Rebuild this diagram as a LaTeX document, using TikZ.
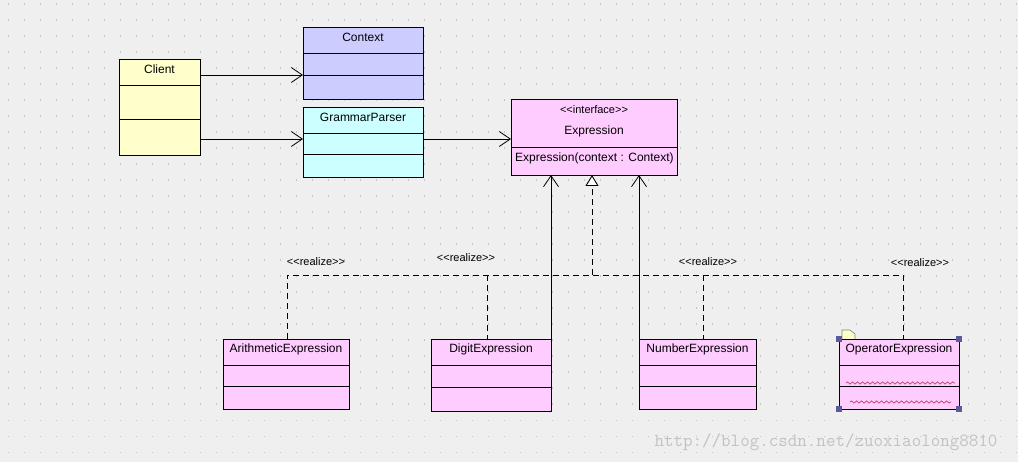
\documentclass[tikz,border=0pt]{standalone}
\usepackage{fontspec}
\setmainfont{Liberation Sans}
\usetikzlibrary{arrows.meta,decorations.pathmorphing,calc}
\definecolor{bgc}{HTML}{EFEFEF}
\definecolor{dotc}{HTML}{C4C4C4}
\definecolor{clientc}{HTML}{FFFFCC}
\definecolor{contextc}{HTML}{CCCCFF}
\definecolor{parserc}{HTML}{CCFFFF}
\definecolor{exprc}{HTML}{FFCCFF}
\definecolor{handlec}{HTML}{5A5A9C}
\definecolor{wavec}{HTML}{C0406A}
\definecolor{wmc}{HTML}{C2C2C2}
\begin{document}
\begin{tikzpicture}[x=1pt,y=-1pt,
  font=\fontsize{12}{14}\selectfont,
  box/.style={draw=black, line width=0.9pt, anchor=north west, inner sep=0pt, outer sep=0pt},
  ttl/.style={inner sep=0pt, anchor=center},
  stereo/.style={inner sep=0pt, anchor=center, font=\fontsize{11}{13}\selectfont},
  divider/.style={line width=0.9pt},
  assoc/.style={line width=0.9pt, -{Straight Barb[length=11pt,width=15pt,line width=0.8pt]}},
  realline/.style={line width=0.9pt, dash pattern=on 6pt off 4pt},
  realtip/.style={line width=0.9pt, dash pattern=on 6pt off 4pt, -{Triangle[open,fill=white,length=11pt,width=13pt,line width=0.9pt]}},
  handle/.style={fill=handlec, minimum size=6pt, inner sep=0pt},
  wave/.style={draw=wavec, line width=0.7pt, decorate, decoration={snake, amplitude=1.1pt, segment length=5pt}}
]
\fill[bgc] (0,0) rectangle (1018,462);
\useasboundingbox (0,0) rectangle (1018,462);
\foreach \i in {0,...,63} {\foreach \j in {0,...,28} {\fill[dotc] (7.5+\i*16, 3.5+\j*16) rectangle +(1.3,1.3);}}

% Client
\node[box, fill=clientc, minimum width=81pt, minimum height=96pt] (client) at (119,59) {};
\node[ttl] (clientT) at ($(client.north)+(0,10)$) {Client};
\draw[divider] ([yshift=-26pt]client.north west) -- ([yshift=-26pt]client.north east);
\draw[divider] ([yshift=-60pt]client.north west) -- ([yshift=-60pt]client.north east);

% Context
\node[box, fill=contextc, minimum width=120pt, minimum height=72pt] (context) at (303,27) {};
\node[ttl] (contextT) at ($(context.north)+(0,10)$) {Context};
\draw[divider] ([yshift=-26pt]context.north west) -- ([yshift=-26pt]context.north east);
\draw[divider] ([yshift=-48pt]context.north west) -- ([yshift=-48pt]context.north east);

% GrammarParser
\node[box, fill=parserc, minimum width=120pt, minimum height=70pt] (parser) at (303,107) {};
\node[ttl] (parserT) at ($(parser.north)+(0,10)$) {GrammarParser};
\draw[divider] ([yshift=-26pt]parser.north west) -- ([yshift=-26pt]parser.north east);
\draw[divider] ([yshift=-47pt]parser.north west) -- ([yshift=-47pt]parser.north east);

% Expression
\node[box, fill=exprc, minimum width=166pt, minimum height=76pt] (expr) at (511,99) {};
\node[stereo] (exprS) at ($(expr.north)+(0,11)$) {<{}<interface>{}>};
\node[ttl] (exprT) at ($(expr.north)+(0,32)$) {Expression};
\draw[divider] ([yshift=-48pt]expr.north west) -- ([yshift=-48pt]expr.north east);
\node[inner sep=0pt, anchor=west] (exprM) at ($(expr.north west)+(4,59)$) {Expression(context : Context)};

% Bottom classes
\node[box, fill=exprc, minimum width=126pt, minimum height=70pt] (arith) at (223,339) {};
\node[ttl] (arithT) at ($(arith.north)+(0,10)$) {ArithmeticExpression};
\draw[divider] ([yshift=-26pt]arith.north west) -- ([yshift=-26pt]arith.north east);
\draw[divider] ([yshift=-47pt]arith.north west) -- ([yshift=-47pt]arith.north east);

\node[box, fill=exprc, minimum width=120pt, minimum height=72pt] (digit) at (431,339) {};
\node[ttl] (digitT) at ($(digit.north)+(0,10)$) {DigitExpression};
\draw[divider] ([yshift=-26pt]digit.north west) -- ([yshift=-26pt]digit.north east);
\draw[divider] ([yshift=-48pt]digit.north west) -- ([yshift=-48pt]digit.north east);

\node[box, fill=exprc, minimum width=117pt, minimum height=70pt] (number) at (639,339) {};
\node[ttl] (numberT) at ($(number.north)+(0,10)$) {NumberExpression};
\draw[divider] ([yshift=-26pt]number.north west) -- ([yshift=-26pt]number.north east);
\draw[divider] ([yshift=-47pt]number.north west) -- ([yshift=-47pt]number.north east);

\node[box, fill=exprc, minimum width=120pt, minimum height=70pt] (oper) at (839,339) {};
\node[ttl] (operT) at ($(oper.north)+(0,10)$) {OperatorExpression};
\draw[divider] ([yshift=-26pt]oper.north west) -- ([yshift=-26pt]oper.north east);
\draw[divider] ([yshift=-47pt]oper.north west) -- ([yshift=-47pt]oper.north east);
\draw[wave] ($(oper.north west)+(7,44)$) -- ($(oper.north west)+(116,44)$);
\draw[wave] ($(oper.north west)+(11,63)$) -- ($(oper.north west)+(112,63)$);
\node[handle] (h1) at (oper.north west) {};
\node[handle] (h2) at (oper.north east) {};
\node[handle] (h3) at (oper.south west) {};
\node[handle] (h4) at (oper.south east) {};
\draw[fill=clientc, draw=gray, line width=0.6pt] (842,339) -- (842,330) -- (850,330) -- (855,334) -- (855,339);

% Associations
\draw[assoc] (client.east |- 0,75) -- (context.west |- 0,75);
\draw[assoc] (client.east |- 0,139) -- (parser.west |- 0,139);
\draw[assoc] (parser.east |- 0,139) -- (expr.west |- 0,139);
\draw[assoc] (digit.north east) -- (digit.north east |- expr.south);
\draw[assoc] (number.north west) -- (number.north west |- expr.south);

% Realization
\coordinate (rj) at (592,275);
\coordinate (rl) at (287,275);
\coordinate (rr) at (903,275);
\draw[realtip] (rj) -- (rj |- expr.south);
\draw[realline] (rl |- arith.north) -- (rl) -- (rr) -- (rr |- oper.north);
\draw[realline] (487,275) -- (487,339);
\draw[realline] (703,275) -- (703,339);
\node[stereo] (r1) at (316,262) {<{}<realize>{}>};
\node[stereo] (r2) at (466,258) {<{}<realize>{}>};
\node[stereo] (r3) at (708,262) {<{}<realize>{}>};
\node[stereo] (r4) at (920,263) {<{}<realize>{}>};

% watermark
\node[inner sep=0pt, text=wmc, font=\ttfamily\fontsize{18.5}{20}\selectfont] (wm) at (826,442) {http://blog.csdn.net/zuoxiaolong8810};
\end{tikzpicture}
\end{document}
